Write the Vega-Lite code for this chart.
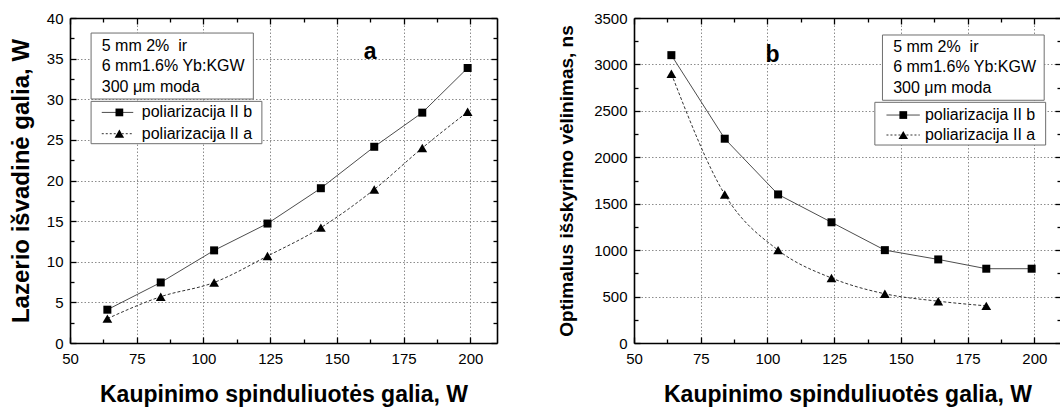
{
  "$schema": "https://vega.github.io/schema/vega-lite/v6.json",
  "autosize": {"type": "none"},
  "padding": {"left": 70, "top": 18, "right": 990, "bottom": 390},
  "background": "white",
  "spacing": 137,
  "bounds": "flush",
  "datasets": {
    "gain": [
      {"P": 64, "serija": "b", "W": 4.1},
      {"P": 84, "serija": "b", "W": 7.45},
      {"P": 104, "serija": "b", "W": 11.4},
      {"P": 124, "serija": "b", "W": 14.7},
      {"P": 144, "serija": "b", "W": 19.05},
      {"P": 164, "serija": "b", "W": 24.15},
      {"P": 182, "serija": "b", "W": 28.35},
      {"P": 199, "serija": "b", "W": 33.85},
      {"P": 64, "serija": "a", "W": 3.0},
      {"P": 84, "serija": "a", "W": 5.7},
      {"P": 104, "serija": "a", "W": 7.45},
      {"P": 124, "serija": "a", "W": 10.7},
      {"P": 144, "serija": "a", "W": 14.2},
      {"P": 164, "serija": "a", "W": 18.9},
      {"P": 182, "serija": "a", "W": 24.0},
      {"P": 199, "serija": "a", "W": 28.45}
    ],
    "delay": [
      {"P": 64, "serija": "b", "tau": 3100},
      {"P": 84, "serija": "b", "tau": 2200},
      {"P": 104, "serija": "b", "tau": 1600},
      {"P": 124, "serija": "b", "tau": 1300},
      {"P": 144, "serija": "b", "tau": 1000},
      {"P": 164, "serija": "b", "tau": 900},
      {"P": 182, "serija": "b", "tau": 800},
      {"P": 199, "serija": "b", "tau": 800},
      {"P": 64, "serija": "a", "tau": 2900},
      {"P": 84, "serija": "a", "tau": 1600},
      {"P": 104, "serija": "a", "tau": 1000},
      {"P": 124, "serija": "a", "tau": 700},
      {"P": 144, "serija": "a", "tau": 530},
      {"P": 164, "serija": "a", "tau": 450},
      {"P": 182, "serija": "a", "tau": 400}
    ]
  },
  "hconcat": [
    {
      "width": 427,
      "height": 325,
      "data": {"name": "gain"},
      "resolve": {"axis": {"x": "independent", "y": "independent"}},
      "layer": [
        {
          "mark": {"type": "rule", "opacity": 0},
          "encoding": {
            "x": {
              "field": "P", "type": "quantitative",
              "scale": {"domain": [50, 210], "nice": false, "zero": false},
              "axis": {"orient": "bottom", "title": null, "labels": false, "ticks": false, "domain": false, "grid": true, "gridColor": "#8c8c8c", "gridDash": [1.5, 2], "gridWidth": 1, "values": [75, 100, 125, 150, 175, 200]}
            },
            "y": {
              "field": "W", "type": "quantitative",
              "scale": {"domain": [0, 40], "nice": false},
              "axis": {"orient": "left", "title": null, "labels": false, "ticks": false, "domain": false, "grid": true, "gridColor": "#8c8c8c", "gridDash": [1.5, 2], "gridWidth": 1, "values": [5, 10, 15, 20, 25, 30, 35]}
            }
          }
        },
        {
          "transform": [{"filter": "datum.serija === 'b'"}],
          "mark": {"type": "line", "color": "#4d4d4d", "strokeWidth": 1},
          "encoding": {
            "x": {
              "field": "P", "type": "quantitative",
              "axis": {
                "orient": "bottom",
                "title": "Kaupinimo spinduliuotės galia, W",
                "titleFontSize": 23, "titlePadding": 15,
                "values": [50, 62.5, 75, 87.5, 100, 112.5, 125, 137.5, 150, 162.5, 175, 187.5, 200],
                "format": "d",
                "labelExpr": "datum.value % 25 === 0 ? datum.label : ''",
                "tickSize": {"condition": {"test": "datum.value % 25 === 0", "value": -6}, "value": -4},
                "labelPadding": 14,
                "grid": false
              }
            },
            "y": {
              "field": "W", "type": "quantitative",
              "axis": {
                "orient": "left",
                "title": "Lazerio išvadinė galia, W",
                "titleFontSize": 24, "titlePadding": 13,
                "values": [0, 2.5, 5, 7.5, 10, 12.5, 15, 17.5, 20, 22.5, 25, 27.5, 30, 32.5, 35, 37.5, 40],
                "format": "d",
                "labelExpr": "datum.value % 5 === 0 ? datum.label : ''",
                "tickSize": {"condition": {"test": "datum.value % 5 === 0", "value": -6}, "value": -4},
                "labelPadding": 13,
                "grid": false
              }
            }
          }
        },
        {
          "transform": [{"filter": "datum.serija === 'a'"}],
          "mark": {"type": "line", "color": "#333333", "strokeWidth": 1, "strokeDash": [3, 2], "interpolate": "monotone"},
          "encoding": {
            "x": {
              "field": "P", "type": "quantitative",
              "axis": {
                "orient": "top", "title": null, "labels": false, "grid": false,
                "values": [50, 62.5, 75, 87.5, 100, 112.5, 125, 137.5, 150, 162.5, 175, 187.5, 200],
                "tickSize": {"condition": {"test": "datum.value % 25 === 0", "value": -6}, "value": -4}
              }
            },
            "y": {
              "field": "W", "type": "quantitative",
              "axis": {
                "orient": "right", "title": null, "labels": false, "grid": false,
                "values": [0, 2.5, 5, 7.5, 10, 12.5, 15, 17.5, 20, 22.5, 25, 27.5, 30, 32.5, 35, 37.5, 40],
                "tickSize": {"condition": {"test": "datum.value % 5 === 0", "value": -6}, "value": -4}
              }
            }
          }
        },
        {
          "mark": {"type": "point", "filled": true, "opacity": 1, "color": "black", "strokeWidth": 0},
          "encoding": {
            "x": {"field": "P", "type": "quantitative", "axis": null},
            "y": {"field": "W", "type": "quantitative", "axis": null},
            "shape": {"field": "serija", "type": "nominal", "scale": {"domain": ["b", "a"], "range": ["square", "triangle-up"]}, "legend": null},
            "size": {"field": "serija", "type": "nominal", "scale": {"domain": ["b", "a"], "range": [64, 95]}, "legend": null}
          }
        },
        {
          "data": {"values": [{}]},
          "mark": {"type": "rect", "fill": "white", "stroke": "#6e6e6e", "strokeWidth": 1},
          "encoding": {
            "x": {"datum": 57.9, "type": "quantitative", "axis": null},
            "x2": {"datum": 118.7},
            "y": {"datum": 38.15, "type": "quantitative", "axis": null},
            "y2": {"datum": 30.03}
          }
        },
        {
          "data": {"values": [{}]},
          "mark": {"type": "rect", "fill": "white", "stroke": "#6e6e6e", "strokeWidth": 1},
          "encoding": {
            "x": {"datum": 57.9, "type": "quantitative", "axis": null},
            "x2": {"datum": 121.9},
            "y": {"datum": 29.74, "type": "quantitative", "axis": null},
            "y2": {"datum": 24.53}
          }
        },
        {
          "data": {"values": [{}]},
          "mark": {"type": "text", "align": "left", "baseline": "middle", "fontSize": 16, "lineHeight": 20.4},
          "encoding": {
            "x": {"datum": 61.9, "type": "quantitative", "axis": null},
            "y": {"datum": 36.59, "type": "quantitative", "axis": null},
            "text": {"value": ["5 mm 2%\u00a0 ir", "6 mm1.6% Yb:KGW", "300 μm moda"]}
          }
        },
        {
          "data": {"values": [{}]},
          "mark": {"type": "rule", "color": "#4d4d4d", "strokeWidth": 1},
          "encoding": {
            "x": {"datum": 61.9, "type": "quantitative", "axis": null},
            "x2": {"datum": 73.7},
            "y": {"datum": 28.38, "type": "quantitative", "axis": null}
          }
        },
        {
          "data": {"values": [{}]},
          "mark": {"type": "rule", "color": "#333333", "strokeWidth": 1, "strokeDash": [2, 2]},
          "encoding": {
            "x": {"datum": 61.9, "type": "quantitative", "axis": null},
            "x2": {"datum": 73.7},
            "y": {"datum": 25.76, "type": "quantitative", "axis": null}
          }
        },
        {
          "data": {"values": [{}]},
          "mark": {"type": "point", "shape": "square", "filled": true, "opacity": 1, "color": "black", "size": 60, "strokeWidth": 0},
          "encoding": {
            "x": {"datum": 68.5, "type": "quantitative", "axis": null},
            "y": {"datum": 28.38, "type": "quantitative", "axis": null}
          }
        },
        {
          "data": {"values": [{}]},
          "mark": {"type": "point", "shape": "triangle-up", "filled": true, "opacity": 1, "color": "black", "size": 90, "strokeWidth": 0},
          "encoding": {
            "x": {"datum": 68.5, "type": "quantitative", "axis": null},
            "y": {"datum": 25.76, "type": "quantitative", "axis": null}
          }
        },
        {
          "data": {"values": [{}]},
          "mark": {"type": "text", "align": "left", "baseline": "middle", "fontSize": 16},
          "encoding": {
            "x": {"datum": 76.9, "type": "quantitative", "axis": null},
            "y": {"datum": 28.38, "type": "quantitative", "axis": null},
            "text": {"value": "poliarizacija II b"}
          }
        },
        {
          "data": {"values": [{}]},
          "mark": {"type": "text", "align": "left", "baseline": "middle", "fontSize": 16},
          "encoding": {
            "x": {"datum": 76.9, "type": "quantitative", "axis": null},
            "y": {"datum": 25.76, "type": "quantitative", "axis": null},
            "text": {"value": "poliarizacija II a"}
          }
        },
        {
          "data": {"values": [{}]},
          "mark": {"type": "text", "align": "center", "baseline": "middle", "fontSize": 23, "fontWeight": "bold"},
          "encoding": {
            "x": {"datum": 162.5, "type": "quantitative", "axis": null},
            "y": {"datum": 35.85, "type": "quantitative", "axis": null},
            "text": {"value": "a"}
          }
        }
      ]
    },
    {
      "width": 427,
      "height": 325,
      "data": {"name": "delay"},
      "resolve": {"axis": {"x": "independent", "y": "independent"}},
      "layer": [
        {
          "mark": {"type": "rule", "opacity": 0},
          "encoding": {
            "x": {
              "field": "P", "type": "quantitative",
              "scale": {"domain": [50, 210], "nice": false, "zero": false},
              "axis": {"orient": "bottom", "title": null, "labels": false, "ticks": false, "domain": false, "grid": true, "gridColor": "#8c8c8c", "gridDash": [1.5, 2], "gridWidth": 1, "values": [75, 100, 125, 150, 175, 200]}
            },
            "y": {
              "field": "tau", "type": "quantitative",
              "scale": {"domain": [0, 3500], "nice": false},
              "axis": {"orient": "left", "title": null, "labels": false, "ticks": false, "domain": false, "grid": true, "gridColor": "#8c8c8c", "gridDash": [1.5, 2], "gridWidth": 1, "values": [500, 1000, 1500, 2000, 2500, 3000]}
            }
          }
        },
        {
          "transform": [{"filter": "datum.serija === 'b'"}],
          "mark": {"type": "line", "color": "#4d4d4d", "strokeWidth": 1},
          "encoding": {
            "x": {
              "field": "P", "type": "quantitative",
              "axis": {
                "orient": "bottom",
                "title": "Kaupinimo spinduliuotės galia, W",
                "titleFontSize": 23, "titlePadding": 15,
                "values": [50, 62.5, 75, 87.5, 100, 112.5, 125, 137.5, 150, 162.5, 175, 187.5, 200],
                "format": "d",
                "labelExpr": "datum.value % 25 === 0 ? datum.label : ''",
                "tickSize": {"condition": {"test": "datum.value % 25 === 0", "value": -6}, "value": -4},
                "labelPadding": 14,
                "grid": false
              }
            },
            "y": {
              "field": "tau", "type": "quantitative",
              "axis": {
                "orient": "left",
                "title": "Optimalus išskyrimo vėlinimas, ns",
                "titleFontSize": 19, "titlePadding": 17,
                "values": [0, 250, 500, 750, 1000, 1250, 1500, 1750, 2000, 2250, 2500, 2750, 3000, 3250, 3500],
                "format": "d",
                "labelExpr": "datum.value % 500 === 0 ? datum.label : ''",
                "tickSize": {"condition": {"test": "datum.value % 500 === 0", "value": -6}, "value": -4},
                "labelPadding": 13,
                "grid": false
              }
            }
          }
        },
        {
          "transform": [{"filter": "datum.serija === 'a'"}],
          "mark": {"type": "line", "color": "#333333", "strokeWidth": 1, "strokeDash": [3, 2], "interpolate": "monotone"},
          "encoding": {
            "x": {
              "field": "P", "type": "quantitative",
              "axis": {
                "orient": "top", "title": null, "labels": false, "grid": false,
                "values": [50, 62.5, 75, 87.5, 100, 112.5, 125, 137.5, 150, 162.5, 175, 187.5, 200],
                "tickSize": {"condition": {"test": "datum.value % 25 === 0", "value": -6}, "value": -4}
              }
            },
            "y": {
              "field": "tau", "type": "quantitative",
              "axis": {
                "orient": "right", "title": null, "labels": false, "grid": false,
                "values": [0, 250, 500, 750, 1000, 1250, 1500, 1750, 2000, 2250, 2500, 2750, 3000, 3250, 3500],
                "tickSize": {"condition": {"test": "datum.value % 500 === 0", "value": -6}, "value": -4}
              }
            }
          }
        },
        {
          "mark": {"type": "point", "filled": true, "opacity": 1, "color": "black", "strokeWidth": 0},
          "encoding": {
            "x": {"field": "P", "type": "quantitative", "axis": null},
            "y": {"field": "tau", "type": "quantitative", "axis": null},
            "shape": {"field": "serija", "type": "nominal", "scale": {"domain": ["b", "a"], "range": ["square", "triangle-up"]}, "legend": null},
            "size": {"field": "serija", "type": "nominal", "scale": {"domain": ["b", "a"], "range": [64, 95]}, "legend": null}
          }
        },
        {
          "data": {"values": [{}]},
          "mark": {"type": "rect", "fill": "white", "stroke": "#6e6e6e", "strokeWidth": 1},
          "encoding": {
            "x": {"datum": 143.1, "type": "quantitative", "axis": null},
            "x2": {"datum": 203.7},
            "y": {"datum": 3317, "type": "quantitative", "axis": null},
            "y2": {"datum": 2614}
          }
        },
        {
          "data": {"values": [{}]},
          "mark": {"type": "rect", "fill": "white", "stroke": "#6e6e6e", "strokeWidth": 1},
          "encoding": {
            "x": {"datum": 140.25, "type": "quantitative", "axis": null},
            "x2": {"datum": 204.25},
            "y": {"datum": 2592, "type": "quantitative", "axis": null},
            "y2": {"datum": 2132}
          }
        },
        {
          "data": {"values": [{}]},
          "mark": {"type": "text", "align": "left", "baseline": "middle", "fontSize": 16, "lineHeight": 20.8},
          "encoding": {
            "x": {"datum": 147.1, "type": "quantitative", "axis": null},
            "y": {"datum": 3191, "type": "quantitative", "axis": null},
            "text": {"value": ["5 mm 2%\u00a0 ir", "6 mm1.6% Yb:KGW", "300 μm moda"]}
          }
        },
        {
          "data": {"values": [{}]},
          "mark": {"type": "rule", "color": "#4d4d4d", "strokeWidth": 1},
          "encoding": {
            "x": {"datum": 144.6, "type": "quantitative", "axis": null},
            "x2": {"datum": 157.1},
            "y": {"datum": 2455, "type": "quantitative", "axis": null}
          }
        },
        {
          "data": {"values": [{}]},
          "mark": {"type": "rule", "color": "#333333", "strokeWidth": 1, "strokeDash": [2, 2]},
          "encoding": {
            "x": {"datum": 144.6, "type": "quantitative", "axis": null},
            "x2": {"datum": 157.1},
            "y": {"datum": 2240, "type": "quantitative", "axis": null}
          }
        },
        {
          "data": {"values": [{}]},
          "mark": {"type": "point", "shape": "square", "filled": true, "opacity": 1, "color": "black", "size": 60, "strokeWidth": 0},
          "encoding": {
            "x": {"datum": 150.9, "type": "quantitative", "axis": null},
            "y": {"datum": 2455, "type": "quantitative", "axis": null}
          }
        },
        {
          "data": {"values": [{}]},
          "mark": {"type": "point", "shape": "triangle-up", "filled": true, "opacity": 1, "color": "black", "size": 90, "strokeWidth": 0},
          "encoding": {
            "x": {"datum": 150.9, "type": "quantitative", "axis": null},
            "y": {"datum": 2240, "type": "quantitative", "axis": null}
          }
        },
        {
          "data": {"values": [{}]},
          "mark": {"type": "text", "align": "left", "baseline": "middle", "fontSize": 16},
          "encoding": {
            "x": {"datum": 159.0, "type": "quantitative", "axis": null},
            "y": {"datum": 2455, "type": "quantitative", "axis": null},
            "text": {"value": "poliarizacija II b"}
          }
        },
        {
          "data": {"values": [{}]},
          "mark": {"type": "text", "align": "left", "baseline": "middle", "fontSize": 16},
          "encoding": {
            "x": {"datum": 159.0, "type": "quantitative", "axis": null},
            "y": {"datum": 2240, "type": "quantitative", "axis": null},
            "text": {"value": "poliarizacija II a"}
          }
        },
        {
          "data": {"values": [{}]},
          "mark": {"type": "text", "align": "center", "baseline": "middle", "fontSize": 23, "fontWeight": "bold"},
          "encoding": {
            "x": {"datum": 101.9, "type": "quantitative", "axis": null},
            "y": {"datum": 3102, "type": "quantitative", "axis": null},
            "text": {"value": "b"}
          }
        }
      ]
    }
  ],
  "config": {
    "view": {"stroke": null},
    "font": "Liberation Sans",
    "axis": {
      "labelFont": "Liberation Sans",
      "labelFontSize": 15,
      "labelColor": "black",
      "labelFlush": false,
      "labelOverlap": false,
      "domainColor": "black",
      "domainWidth": 1.6,
      "tickColor": "black",
      "tickWidth": 1.3,
      "titleFont": "Liberation Sans",
      "titleFontWeight": "bold",
      "titleColor": "black"
    },
    "text": {"font": "Liberation Sans", "fontSize": 16, "color": "black"}
  }
}
